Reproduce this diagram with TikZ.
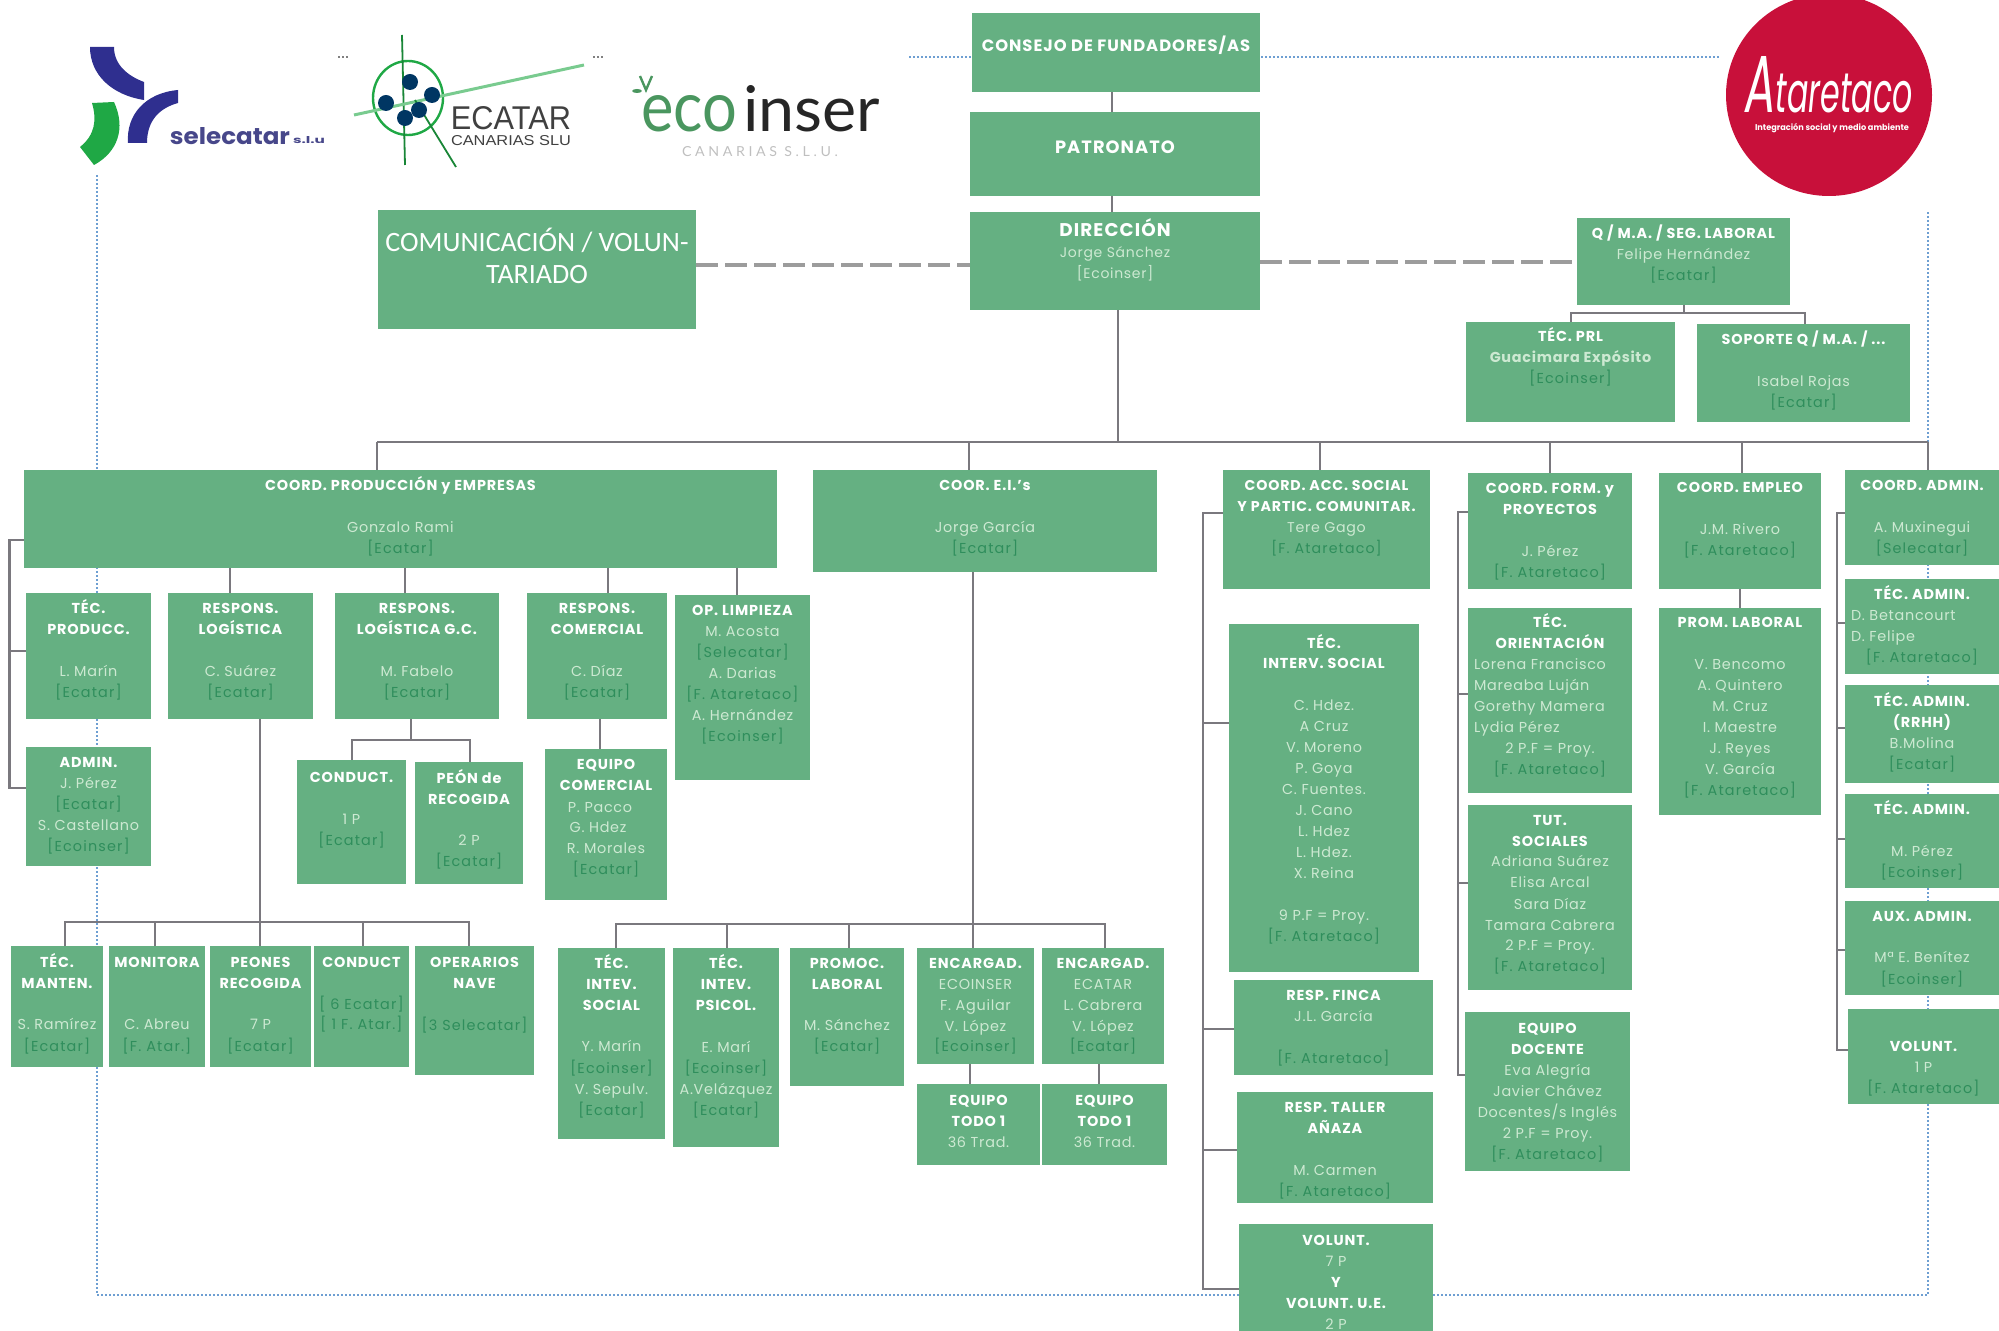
\documentclass[tikz,border=0pt]{standalone}
\usepackage{fontspec}
\usepackage{graphicx}
\setmainfont{Poppins}
\newfontfamily\carl{Carlito}
\newfontfamily\cond{Liberation Sans}
\newfontfamily\lat{Lato}
\definecolor{boxg}{HTML}{65B082}
\definecolor{namec}{HTML}{CDE9D2}
\definecolor{brkc}{HTML}{2F8E5C}
\definecolor{linec}{HTML}{7A787E}
\definecolor{dashc}{HTML}{9C9C9C}
\definecolor{dotc}{HTML}{6E9FD2}
\definecolor{blu}{HTML}{2F2F8F}
\definecolor{grn}{HTML}{1FA845}
\definecolor{redc}{HTML}{C8103A}
\newcommand\ttl[1]{{\bfseries\addfontfeature{LetterSpace=6}\color{white}#1}}
\newcommand\nam[1]{{\addfontfeature{LetterSpace=5}\color{namec}#1}}
\newcommand\brk[1]{{\addfontfeature{LetterSpace=8}\color{brkc}#1}}
\newcommand\lft[2]{\makebox[#1pt][l]{\hspace{3pt}\nam{#2}}}
\newcommand\bx[7]{%
  \pgfmathsetlengthmacro\bW{(#4-#2)*0.5}%
  \pgfmathsetlengthmacro\bH{(#5-#3)*0.5}%
  \pgfmathsetlengthmacro\bB{(#6-#3+5)*0.5}%
  \node[boxn,anchor=north west] (#1) at (#2,#3)
    {\parbox[c][\bH][t]{\bW}{\centering\fontsize{7.2}{10.5}\selectfont\rule{0pt}{\bB}#7}};}
\tikzset{
  boxn/.style={fill=boxg,draw=none,inner sep=0pt,outer sep=0pt},
  ln/.style={draw=linec,line width=1.1pt},
  dashln/.style={draw=dashc,line width=1.6pt,dash pattern=on 11pt off 3.5pt},
  dotln/.style={draw=dotc,line width=0.7pt,dash pattern=on 1pt off 1pt},
  logotxt/.style={inner sep=0pt,outer sep=0pt}
}
\begin{document}
\begin{tikzpicture}[x=0.5pt,y=-0.5pt]
\useasboundingbox (0,0) rectangle (1999,1331);
% frame
\coordinate (fa) at (97,175);
\coordinate (fb) at (97,1295);
\coordinate (fc) at (1928,1295);
\coordinate (fd) at (1928,210);
\coordinate (fe) at (909,57);
\coordinate (ff) at (1720,57);
\draw[dotln] (fa) -- (fb) -- (fc) -- (fd);
\draw[dotln] (fe) -- (ff);
\draw[dotln,draw=gray] (338,57) -- (348,57);
\draw[dotln,draw=gray] (593,57) -- (603,57);
% logos
\fill[blu] (90,47) -- (114,47) .. controls (114,65) and (128,76) .. (144,82) -- (144,100) .. controls (112,95) and (90,75) .. (90,47) -- cycle;
\fill[blu] (178,90) -- (178,103) .. controls (160,108) and (147,120) .. (147,143) -- (128,143) .. controls (126,115) and (145,93) .. (178,90) -- cycle;
\fill[grn] (92,103) -- (114,102) .. controls (126,128) and (118,152) .. (94,165) -- (80,147) .. controls (95,135) and (97,120) .. (92,103) -- cycle;
\node[logotxt,text=blu!70!gray] (selt) at (230,136) {\resizebox{60pt}{8.5pt}{\bfseries selecatar}};
\node[logotxt,text=blu!70!gray,anchor=west] (selu) at (293,140) {\resizebox{16pt}{3.5pt}{\bfseries s.l.u}};
\draw[grn,line width=1.2pt] (408,98) ellipse [x radius=35,y radius=37];
\draw[grn!80!black,line width=0.9pt] (402,35) -- (405,165);
\draw[grn!60!white,line width=1.5pt] (354,115) -- (584,65);
\draw[grn!80!black,line width=0.9pt] (415,100) -- (456,167);
\foreach \p in {(410,82),(432,95),(386,103),(419,110),(405,118)} \fill[blue!30!teal!60!black] \p circle [radius=8];
\node[logotxt,text=black!75] (ect) at (511,118) {\resizebox{60pt}{11.5pt}{\cond ECATAR}};
\node[logotxt,text=black!75] (ecs) at (511,141) {\resizebox{60pt}{5pt}{\cond CANARIAS SLU}};
\node[logotxt,text=grn!55!gray,anchor=base west] (eco) at (641,132) {\resizebox{48pt}{18pt}{\lat eco}};
\node[logotxt,text=black!85,anchor=base west] (ins) at (743,132) {\resizebox{68.5pt}{23pt}{\lat inser}};
\fill[grn!55!gray] (637,91) ellipse [x radius=5,y radius=2];
\draw[grn!55!gray,line width=1.2pt] (640,76) -- (646,90) -- (652,76);
\node[logotxt,text=black!25] (ecc) at (760,152) {\resizebox{78pt}{5pt}{\lat C A N A R I A S \ S . L . U .}};
\fill[redc] (1829,95) ellipse [x radius=103,y radius=101];
\node[logotxt,text=white] (ata) at (1829,85) {\resizebox{84pt}{28pt}{\itshape {\Large A}taretaco}};
\node[logotxt,text=white] (atb) at (1832,128) {\resizebox{77pt}{3.5pt}{\bfseries Integración social y medio ambiente}};
% boxes top
\bx{cons}{972}{13}{1260}{92}{47}{\fontsize{8.2}{10}\selectfont\ttl{CONSEJO DE FUNDADORES/AS}}
\bx{pat}{970}{112}{1260}{196}{149}{\fontsize{8.9}{10}\selectfont\ttl{PATRONATO}}
\bx{dir}{970}{212}{1260}{310}{232}{\fontsize{9.2}{11}\selectfont\ttl{DIRECCIÓN}\\\fontsize{7}{10.5}\selectfont\nam{Jorge Sánchez}\\\nam{[Ecoinser]}}
\bx{com}{378}{210}{696}{329}{247}{\carl\fontsize{14}{16}\selectfont\color{white}COMUNICACIÓN / VOLUN-\\TARIADO}
\bx{qma}{1577}{218}{1790}{305}{234}{\ttl{Q / M.A. / SEG. LABORAL}\\\nam{Felipe Hernández}\\\brk{[Ecatar]}}
\bx{prl}{1466}{322}{1675}{422}{337}{\ttl{TÉC. PRL}\\\nam{\bfseries Guacimara Expósito}\\\brk{[Ecoinser]}}
\bx{sop}{1697}{324}{1910}{422}{340}{\ttl{SOPORTE Q / M.A. / ...}\\\mbox{}\\\nam{Isabel Rojas}\\\brk{[Ecatar]}}
% second row
\bx{cp}{24}{470}{777}{568}{486}{\ttl{COORD. PRODUCCIÓN y EMPRESAS}\\\mbox{}\\\nam{Gonzalo Rami}\\\brk{[Ecatar]}}
\bx{cei}{813}{470}{1157}{572}{486}{\ttl{COOR. E.I.'s}\\\mbox{}\\\nam{Jorge García}\\\brk{[Ecatar]}}
\bx{cacc}{1223}{470}{1430}{589}{486}{\fontsize{7.1}{10.5}\selectfont\ttl{COORD. ACC. SOCIAL}\\\ttl{Y PARTIC. COMUNITAR.}\\\nam{Tere Gago}\\\brk{[F. Ataretaco]}}
\bx{cform}{1468}{473}{1632}{589}{489}{\ttl{COORD. FORM. y}\\\ttl{PROYECTOS}\\\mbox{}\\\nam{J. Pérez}\\\brk{[F. Ataretaco]}}
\bx{cemp}{1659}{473}{1821}{589}{488}{\ttl{COORD. EMPLEO}\\\mbox{}\\\nam{J.M. Rivero}\\\brk{[F. Ataretaco]}}
\bx{cadm}{1845}{470}{1999}{565}{486}{\ttl{COORD. ADMIN.}\\\mbox{}\\\nam{A. Muxinegui}\\\brk{[Selecatar]}}
% produccion
\bx{tprod}{26}{593}{151}{719}{609}{\ttl{TÉC.}\\\ttl{PRODUCC.}\\\mbox{}\\\nam{L. Marín}\\\brk{[Ecatar]}}
\bx{rlog}{168}{593}{313}{719}{609}{\ttl{RESPONS.}\\\ttl{LOGÍSTICA}\\\mbox{}\\\nam{C. Suárez}\\\brk{[Ecatar]}}
\bx{rgc}{335}{593}{499}{719}{609}{\ttl{RESPONS.}\\\ttl{LOGÍSTICA G.C.}\\\mbox{}\\\nam{M. Fabelo}\\\brk{[Ecatar]}}
\bx{rcom}{527}{593}{667}{719}{609}{\ttl{RESPONS.}\\\ttl{COMERCIAL}\\\mbox{}\\\nam{C. Díaz}\\\brk{[Ecatar]}}
\bx{oplim}{675}{595}{810}{780}{611}{\ttl{OP. LIMPIEZA}\\\nam{M. Acosta}\\\brk{[Selecatar]}\\\nam{A. Darias}\\\brk{[F. Ataretaco]}\\\nam{A. Hernández}\\\brk{[Ecoinser]}}
\bx{adm}{26}{747}{151}{866}{763}{\ttl{ADMIN.}\\\nam{J. Pérez}\\\brk{[Ecatar]}\\\nam{S. Castellano}\\\brk{[Ecoinser]}}
\bx{cnd}{297}{760}{406}{884}{778}{\ttl{CONDUCT.}\\\mbox{}\\\nam{1 P}\\\brk{[Ecatar]}}
\bx{peon}{415}{762}{523}{884}{778}{\ttl{PEÓN de}\\\ttl{RECOGIDA}\\\mbox{}\\\nam{2 P}\\\brk{[Ecatar]}}
\bx{eqc}{545}{749}{667}{900}{765}{\ttl{EQUIPO}\\\ttl{COMERCIAL}\\\nam{P. Pacco\hspace{6pt}}\\\nam{G. Hdez\hspace{8pt}}\\\nam{R. Morales}\\\brk{[Ecatar]}}
% row 3 left
\bx{man}{11}{946}{103}{1067}{962}{\ttl{TÉC.}\\\ttl{MANTEN.}\\\mbox{}\\\nam{S. Ramírez}\\\brk{[Ecatar]}}
\bx{mon}{109}{946}{205}{1067}{962}{\ttl{MONITORA}\\\mbox{}\\\mbox{}\\\nam{C. Abreu}\\\brk{[F. Atar.]}}
\bx{peo}{210}{946}{311}{1067}{962}{\ttl{PEONES}\\\ttl{RECOGIDA}\\\mbox{}\\\nam{7 P}\\\brk{[Ecatar]}}
\bx{cnb}{314}{946}{409}{1067}{962}{\ttl{CONDUCT}\\\mbox{}\\\brk{[ 6 Ecatar]}\\\brk{[ 1 F. Atar.]}}
\bx{ope}{415}{946}{534}{1075}{962}{\ttl{OPERARIOS}\\\ttl{NAVE}\\\mbox{}\\\brk{[3 Selecatar]}}
% row 3 EI
\bx{tis}{558}{948}{665}{1139}{963}{\ttl{TÉC.}\\\ttl{INTEV.}\\\ttl{SOCIAL}\\\mbox{}\\\nam{Y. Marín}\\\brk{[Ecoinser]}\\\nam{V. Sepulv.}\\\brk{[Ecatar]}}
\bx{tip}{673}{948}{779}{1147}{963}{\ttl{TÉC.}\\\ttl{INTEV.}\\\ttl{PSICOL.}\\\mbox{}\\\nam{E. Marí}\\\brk{[Ecoinser]}\\\nam{A.Velázquez}\\\brk{[Ecatar]}}
\bx{pro}{790}{948}{904}{1086}{963}{\ttl{PROMOC.}\\\ttl{LABORAL}\\\mbox{}\\\nam{M. Sánchez}\\\brk{[Ecatar]}}
\bx{ence}{917}{948}{1034}{1064}{963}{\ttl{ENCARGAD.}\\\nam{ECOINSER}\\\nam{F. Aguilar}\\\nam{V. López}\\\brk{[Ecoinser]}}
\bx{enca}{1042}{948}{1164}{1064}{963}{\ttl{ENCARGAD.}\\\nam{ECATAR}\\\nam{L. Cabrera}\\\nam{V. López}\\\brk{[Ecatar]}}
\bx{eqa}{917}{1084}{1040}{1165}{1100}{\ttl{EQUIPO}\\\ttl{TODO 1}\\\nam{36 Trad.}}
\bx{eqb}{1042}{1084}{1167}{1165}{1100}{\ttl{EQUIPO}\\\ttl{TODO 1}\\\nam{36 Trad.}}
% social
\bx{tint}{1229}{624}{1419}{972}{643}{\ttl{TÉC.}\\\ttl{INTERV. SOCIAL}\\\mbox{}\\\nam{C. Hdez.}\\\nam{A Cruz}\\\nam{V. Moreno}\\\nam{P. Goya}\\\nam{C. Fuentes.}\\\nam{J. Cano}\\\nam{L. Hdez}\\\nam{L. Hdez.}\\\nam{X. Reina}\\\mbox{}\\\nam{9 P.F = Proy.}\\\brk{[F. Ataretaco]}}
\bx{fin}{1234}{980}{1433}{1075}{995}{\ttl{RESP. FINCA}\\\nam{J.L. García}\\\mbox{}\\\brk{[F. Ataretaco]}}
\bx{tal}{1237}{1092}{1433}{1203}{1107}{\ttl{RESP. TALLER}\\\ttl{AÑAZA}\\\mbox{}\\\nam{M. Carmen}\\\brk{[F. Ataretaco]}}
\bx{vol}{1239}{1224}{1433}{1331}{1240}{\ttl{VOLUNT.}\\\nam{7 P}\\\ttl{Y}\\\ttl{VOLUNT. U.E.}\\\nam{2 P}}
% formacion
\bx{ori}{1468}{608}{1632}{793}{623}{\ttl{TÉC.}\\\ttl{ORIENTACIÓN}\\\lft{82}{Lorena Francisco}\\\lft{82}{Mareaba Luján}\\\lft{82}{Gorethy Mamera}\\\lft{82}{Lydia Pérez}\\\nam{2 P.F = Proy.}\\\brk{[F. Ataretaco]}}
\bx{tut}{1468}{805}{1632}{990}{820}{\ttl{TUT.}\\\ttl{SOCIALES}\\\nam{Adriana Suárez}\\\nam{Elisa Arcal}\\\nam{Sara Díaz}\\\nam{Tamara Cabrera}\\\nam{2 P.F = Proy.}\\\brk{[F. Ataretaco]}}
\bx{doc}{1465}{1012}{1630}{1171}{1028}{\ttl{EQUIPO}\\\ttl{DOCENTE}\\\nam{Eva Alegría}\\\nam{Javier Chávez}\\\nam{Docentes/s Inglés}\\\nam{2 P.F = Proy.}\\\brk{[F. Ataretaco]}}
% empleo
\bx{plab}{1659}{608}{1821}{815}{623}{\ttl{PROM. LABORAL}\\\mbox{}\\\nam{V. Bencomo}\\\nam{A. Quintero}\\\nam{M. Cruz}\\\nam{I. Maestre}\\\nam{J. Reyes}\\\nam{V. García}\\\brk{[F. Ataretaco]}}
% admin
\bx{ta}{1845}{579}{1999}{674}{595}{\ttl{TÉC. ADMIN.}\\\lft{77}{D. Betancourt}\\\lft{77}{D. Felipe}\\\brk{[F. Ataretaco]}}
\bx{tb}{1845}{685}{1999}{783}{702}{\ttl{TÉC. ADMIN.}\\\ttl{(RRHH)}\\\nam{B.Molina}\\\brk{[Ecatar]}}
\bx{tc}{1845}{794}{1999}{888}{810}{\ttl{TÉC. ADMIN.}\\\mbox{}\\\nam{M. Pérez}\\\brk{[Ecoinser]}}
\bx{aux}{1845}{901}{1999}{995}{916}{\ttl{AUX. ADMIN.}\\\mbox{}\\\nam{Mª E. Benítez}\\\brk{[Ecoinser]}}
\bx{vad}{1848}{1009}{1999}{1104}{1046}{\ttl{VOLUNT.}\\\nam{1 P}\\\brk{[F. Ataretaco]}}
% connectors top
\draw[ln] (1112,0 |- cons.south) -- (1112,0 |- pat.north);
\draw[ln] (1112,0 |- pat.south) -- (1112,0 |- dir.north);
\draw[dashln] (com.east |- 0,265) -- (dir.west |- 0,265);
\draw[dashln] (dir.east |- 0,262) -- (qma.west |- 0,262);
\draw[ln] (1684,0 |- qma.south) -- (1684,313);
\draw[ln] (1571,0 |- prl.north) -- (1571,313) -- (1805,313) -- (1805,0 |- sop.north);
% main bus
\coordinate (busl) at (377,442);
\coordinate (busr) at (1928,442);
\draw[ln,line width=1.4pt] (busl) -- (busr);
\draw[ln] (1118,0 |- dir.south) -- (1118,442);
\draw[ln] (busl) -- (377,0 |- cp.north);
\draw[ln] (969,442) -- (969,0 |- cei.north);
\draw[ln] (1320,442) -- (1320,0 |- cacc.north);
\draw[ln] (1550,442) -- (1550,0 |- cform.north);
\draw[ln] (1742,442) -- (1742,0 |- cemp.north);
\draw[ln] (busr) -- (1928,0 |- cadm.north);
% produccion connectors
\draw[ln] (cp.west |- 0,540) -- (9.5,540) -- (9.5,788) -- (adm.west |- 0,788);
\draw[ln] (9.5,651) -- (tprod.west |- 0,651);
\draw[ln] (230,0 |- cp.south) -- (230,0 |- rlog.north);
\draw[ln] (405,0 |- cp.south) -- (405,0 |- rgc.north);
\draw[ln] (608,0 |- cp.south) -- (608,0 |- rcom.north);
\draw[ln] (737,0 |- cp.south) -- (737,0 |- oplim.north);
\draw[ln] (411,0 |- rgc.south) -- (411,740);
\draw[ln] (352,0 |- cnd.north) -- (352,740) -- (470,740) -- (470,0 |- peon.north);
\draw[ln] (600,0 |- rcom.south) -- (600,0 |- eqc.north);
\draw[ln] (260,0 |- rlog.south) -- (260,0 |- peo.north);
\draw[ln] (65,0 |- man.north) -- (65,922) -- (469,922) -- (469,0 |- ope.north);
\draw[ln] (155,922) -- (155,0 |- mon.north);
\draw[ln] (363,922) -- (363,0 |- cnb.north);
% EI connectors
\draw[ln] (973,0 |- cei.south) -- (973,0 |- ence.north);
\draw[ln] (616,0 |- tis.north) -- (616,924) -- (1105,924) -- (1105,0 |- enca.north);
\draw[ln] (727,924) -- (727,0 |- tip.north);
\draw[ln] (849,924) -- (849,0 |- pro.north);
\draw[ln] (970,0 |- ence.south) -- (970,0 |- eqa.north);
\draw[ln] (1099,0 |- enca.south) -- (1099,0 |- eqb.north);
% social bracket
\draw[ln] (cacc.west |- 0,513) -- (1203,513) -- (1203,1289) -- (vol.west |- 0,1289);
\draw[ln] (1203,723) -- (tint.west |- 0,723);
\draw[ln] (1203,1029) -- (fin.west |- 0,1029);
\draw[ln] (1203,1150) -- (tal.west |- 0,1150);
% form bracket
\draw[ln] (cform.west |- 0,512) -- (1458,512) -- (1458,1075) -- (doc.west |- 0,1075);
\draw[ln] (1458,694) -- (ori.west |- 0,694);
\draw[ln] (1458,883) -- (tut.west |- 0,883);
% empleo
\draw[ln] (1740,0 |- cemp.south) -- (1740,0 |- plab.north);
% admin bracket
\draw[ln] (cadm.west |- 0,513) -- (1837,513) -- (1837,1050) -- (vad.west |- 0,1050);
\draw[ln] (1837,623) -- (ta.west |- 0,623);
\draw[ln] (1837,728) -- (tb.west |- 0,728);
\draw[ln] (1837,839) -- (tc.west |- 0,839);
\draw[ln] (1837,950) -- (aux.west |- 0,950);
\end{tikzpicture}
\end{document}
